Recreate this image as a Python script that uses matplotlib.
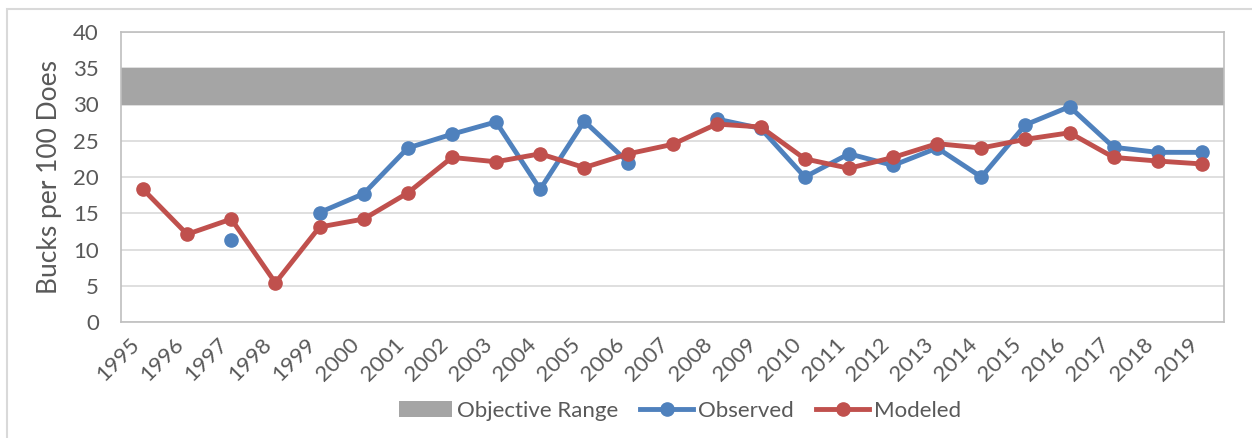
import numpy as np
import matplotlib
matplotlib.use('Agg')
import matplotlib.pyplot as plt
from matplotlib.patches import Patch, Rectangle
from matplotlib.lines import Line2D

# Dane
years = list(range(1995, 2020))
observed = [np.nan, np.nan, 11.3, np.nan, 15.1, 17.7, 24.0, 25.9, 27.6, 18.3,
            27.7, 22.0, np.nan, 28.0, 26.7, 20.0, 23.2, 21.6, 24.0, 20.0,
            27.2, 29.7, 24.1, 23.4, 23.4]
modeled = [18.3, 12.1, 14.2, 5.4, 13.1, 14.2, 17.8, 22.7, 22.1, 23.2,
           21.3, 23.2, 24.5, 27.3, 26.9, 22.5, 21.2, 22.7, 24.6, 24.0,
           25.2, 26.1, 22.7, 22.2, 21.8]
objective_low, objective_high = 30, 35

blue = '#4F81BD'
red = '#C0504D'
band = '#A5A5A5'
txt = '#595959'

plt.rcParams['font.family'] = ['Lato', 'DejaVu Sans']

fig = plt.figure(figsize=(12.52, 4.38), dpi=100)
ax = fig.add_axes([121/1252, 1 - 322/438, (1224-121)/1252, (322-32)/438])

# ramka całego wykresu
fig.patches.append(Rectangle((7/1252, -0.1), 1.2, 1 - 9/438 + 0.1, transform=fig.transFigure,
                             fill=False, edgecolor='#D9D9D9', linewidth=1.5))

x = np.arange(len(years))
ax.axhspan(objective_low, objective_high, color=band, zorder=1, lw=0)
ax.plot(x, observed, color=blue, lw=3.5, marker='o', ms=9.5, zorder=3)
ax.plot(x, modeled, color=red, lw=3.5, marker='o', ms=9.5, zorder=4)

ax.set_xlim(-0.5, len(years) - 0.5)
ax.set_ylim(0, 40)
ax.set_yticks(range(0, 41, 5))
ax.yaxis.grid(True, color='#D9D9D9', lw=1.2, zorder=0)
ax.set_axisbelow(True)
for s in ax.spines.values():
    s.set_color('#BFBFBF')
    s.set_linewidth(1.2)

ax.set_xticks(x)
ax.set_xticklabels([str(y) for y in years], rotation=45, ha='right', va='top')
ax.tick_params(axis='x', length=0, pad=9, labelsize=16, labelcolor=txt)
ax.tick_params(axis='y', length=0, pad=16, labelsize=16, labelcolor=txt)
ax.set_ylabel('Bucks per 100 Does', fontsize=19, color=txt, labelpad=8)

handles = [Patch(facecolor=band, edgecolor='none'),
           Line2D([0], [0], color=blue, lw=3.5, marker='o', ms=9.5),
           Line2D([0], [0], color=red, lw=3.5, marker='o', ms=9.5)]
leg = fig.legend(handles, ['Objective Range', 'Observed', 'Modeled'],
                 loc='center', bbox_to_anchor=(0.543, 1 - 411/438), ncol=3,
                 frameon=False, fontsize=16, handlelength=2.4, handletextpad=0.2,
                 columnspacing=1.0)
for t in leg.get_texts():
    t.set_color(txt)

fig.savefig('out.png', dpi=100)
